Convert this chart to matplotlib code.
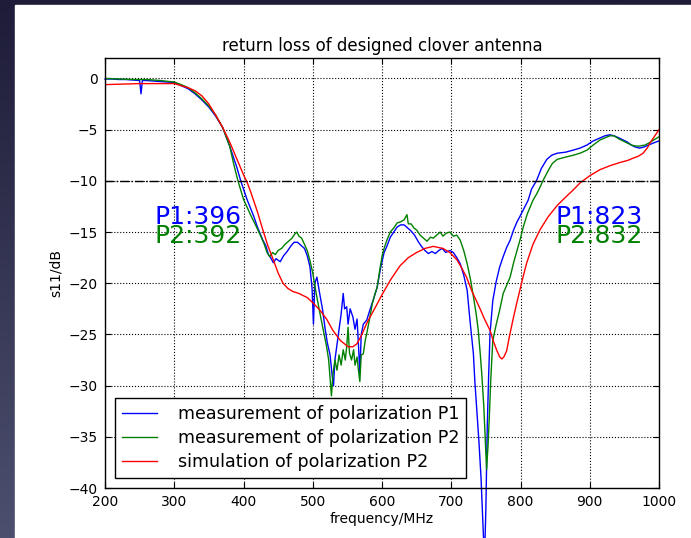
import numpy as np
import matplotlib
matplotlib.use("Agg")
import matplotlib.pyplot as plt
from matplotlib.patches import Rectangle

# measured P1 (blue)
f_p1 = [200, 210, 220, 230, 240, 250, 252, 254, 260, 270, 280, 290, 300, 310, 320, 330, 340, 350, 360, 370,
        380, 390, 396, 405, 415, 420, 428, 432, 436, 440, 443, 447, 453, 458, 463, 468, 473, 478, 483, 488,
        492, 496, 499, 501, 503, 506, 510, 514, 518, 521, 525, 528, 530, 532, 535, 538, 541, 544, 546, 549,
        551, 554, 558, 561, 564, 566, 568, 570, 573, 578, 583, 588, 593, 598, 603, 607, 612, 617, 622, 627,
        632, 637, 642, 647, 652, 657, 662, 667, 672, 677, 682, 687, 692, 698, 703, 708, 713, 718, 723, 727,
        732, 734, 737, 740, 743, 746, 748, 750, 752, 754, 756, 760, 765, 770, 775, 780, 785, 790, 795, 799,
        805, 811, 816, 823, 830, 838, 845, 853, 865, 876, 886, 896, 905, 915, 922, 929, 935, 942, 948, 954,
        960, 966, 972, 978, 985, 992, 1000]
s_p1 = [-0.05, -0.05, -0.1, -0.1, -0.15, -0.2, -1.5, -0.2, -0.2, -0.25, -0.3, -0.35, -0.4, -0.7, -1.0, -1.5, -2.1, -2.8, -3.7, -4.8,
        -6.6, -8.6, -10.0, -11.8, -13.5, -14.5, -15.8, -16.3, -17.2, -17.6, -18.0, -17.6, -17.9, -17.3, -16.9, -16.4, -16.0, -16.0, -16.3, -16.6,
        -17.3, -18.4, -20.5, -24.0, -20.0, -19.4, -21.0, -22.5, -24.5, -25.8, -27.0, -29.0, -30.0, -27.5, -26.0, -24.5, -23.0, -21.0, -22.5, -22.3,
        -24.0, -22.5, -23.3, -24.5, -23.5, -26.0, -28.8, -25.0, -24.0, -23.6, -22.5, -21.5, -20.4, -18.5, -17.0, -16.4, -15.5, -15.0, -14.5, -14.3,
        -14.3, -14.6, -14.9, -15.3, -15.9, -16.4, -16.8, -17.1, -16.9, -17.1, -16.8, -16.6, -17.0, -16.8, -17.0, -17.5, -18.1, -19.2, -20.7, -23.6,
        -26.9, -29.5, -32.5, -35.5, -39.0, -44.0, -47.0, -42.0, -34.0, -29.0, -24.9, -21.7, -19.8, -18.4, -17.4, -16.5, -15.8, -14.8, -14.0, -13.5,
        -12.7, -11.9, -10.8, -10.0, -8.8, -7.9, -7.5, -7.3, -7.2, -7.0, -6.8, -6.5, -6.1, -5.8, -5.6, -5.5, -5.6, -5.8, -6.0, -6.2,
        -6.5, -6.7, -6.8, -6.7, -6.5, -6.3, -6.1]

# measured P2 (green)
f_p2 = [200, 220, 240, 260, 280, 300, 310, 320, 330, 340, 350, 360, 370, 380, 386, 392, 400, 410, 418, 425,
        430, 434, 438, 442, 446, 450, 455, 460, 465, 470, 474, 477, 480, 484, 488, 492, 496, 500, 505, 510,
        515, 520, 523, 525, 527, 529, 532, 535, 538, 541, 544, 547, 549, 551, 553, 556, 559, 561, 564, 566,
        568, 570, 573, 576, 578, 582, 586, 590, 593, 597, 600, 603, 607, 612, 617, 622, 627, 632, 636, 638,
        642, 646, 650, 655, 660, 665, 670, 674, 679, 684, 688, 693, 698, 703, 708, 713, 718, 723, 728, 732,
        736, 739, 742, 744, 747, 749, 751, 753, 755, 757, 760, 765, 770, 775, 780, 785, 790, 795, 800, 804,
        810, 818, 824, 829, 833, 840, 846, 853, 864, 876, 886, 896, 905, 915, 922, 929, 935, 942, 948, 954,
        960, 966, 972, 980, 988, 995, 1000]
s_p2 = [0.0, -0.05, -0.1, -0.1, -0.2, -0.35, -0.6, -0.9, -1.4, -2.0, -2.7, -3.6, -4.8, -6.6, -8.4, -10.0, -11.8, -13.3, -14.4, -15.4,
        -16.2, -17.0, -17.4, -17.0, -17.2, -16.8, -16.6, -16.2, -15.9, -15.6, -15.2, -15.0, -15.4, -15.6, -16.2, -16.8, -17.8, -19.0, -21.0, -22.8,
        -24.5, -26.2, -27.5, -29.2, -31.0, -29.0, -27.5, -28.5, -27.0, -28.0, -26.5, -27.5, -26.2, -24.3, -26.8, -27.5, -26.5, -28.0, -27.2, -28.5,
        -29.6, -27.0, -26.9, -25.5, -24.9, -23.5, -22.0, -21.0, -20.4, -18.6, -17.4, -16.6, -15.8, -15.0, -14.6, -14.1, -14.0, -13.8, -13.3, -14.2,
        -14.2, -14.6, -14.8, -15.3, -15.6, -15.9, -15.5, -15.6, -15.3, -15.0, -15.4, -15.1, -15.0, -15.4, -15.3, -15.8, -16.8, -18.1, -19.7, -21.3,
        -23.0, -24.6, -27.0, -28.8, -32.0, -35.0, -38.2, -36.0, -33.0, -29.5, -25.6, -24.0, -22.6, -21.0, -20.2, -19.4, -18.0, -16.8, -15.6, -14.5,
        -13.2, -11.9, -11.2, -10.5, -9.9, -9.0, -8.3, -7.9, -7.7, -7.5, -7.3, -7.0, -6.5, -6.0, -5.8, -5.6, -5.6, -5.9, -6.1, -6.3,
        -6.5, -6.6, -6.6, -6.5, -6.2, -5.9, -5.7]

# simulation P2 (red)
f_sim = [200, 225, 250, 275, 300, 310, 320, 330, 340, 350, 360, 370, 380, 390, 400, 405, 410, 420, 428, 435,
         443, 450, 457, 464, 471, 480, 492, 500, 510, 520, 529, 540, 551, 558, 564, 571, 578, 590, 601, 613,
         626, 638, 650, 662, 674, 688, 698, 708, 715, 722, 730, 741, 748, 756, 761, 766, 770, 773, 776, 780,
         784, 789, 794, 799, 804, 809, 818, 828, 840, 853, 865, 876, 886, 900, 915, 930, 944, 955, 962, 970,
         977, 983, 987, 993, 1000]
s_sim = [-0.6, -0.55, -0.5, -0.5, -0.5, -0.7, -0.9, -1.2, -1.7, -2.5, -3.6, -4.8, -6.2, -7.8, -9.4, -10.1, -11.0, -13.0, -14.8, -16.3,
         -17.7, -19.0, -20.0, -20.5, -20.8, -21.0, -21.4, -21.9, -22.6, -23.5, -24.6, -25.6, -26.2, -26.2, -25.9, -25.0, -23.9, -22.4, -21.0, -19.6,
         -18.3, -17.5, -17.0, -16.6, -16.4, -16.6, -17.0, -17.7, -18.5, -19.4, -20.8, -22.4, -23.5, -24.6, -25.7, -26.6, -27.2, -27.4, -27.2, -26.6,
         -25.2, -23.6, -22.1, -20.7, -19.3, -18.0, -16.2, -14.8, -13.5, -12.4, -11.6, -10.9, -10.2, -9.5, -8.9, -8.5, -8.2, -8.0, -7.8, -7.6,
         -7.3, -6.8, -6.3, -5.7, -5.0]

fig = plt.figure(figsize=(6.91, 5.38), dpi=100)

# dark slide background around the white figure
bg = fig.add_axes([0, 0, 1, 1], zorder=-10)
grad = np.linspace(0, 1, 256).reshape(-1, 1)
top_c = np.array([0x1e, 0x1c, 0x38]) / 255.0
bot_c = np.array([0x4c, 0x50, 0x6e]) / 255.0
img = top_c[None, None, :] * (1 - grad[:, :, None]) + bot_c[None, None, :] * grad[:, :, None]
bg.imshow(img, aspect="auto", extent=[0, 1, 0, 1], origin="upper")
bg.add_patch(Rectangle((15 / 691, 0), 1, 1 - 5 / 538, color="white"))
bg.set_xlim(0, 1)
bg.set_ylim(0, 1)
bg.axis("off")

ax = fig.add_axes([105 / 691, 50 / 538, 554 / 691, 430 / 538])
ax.plot(f_p1, s_p1, color="blue", lw=1, label="measurement of polarization P1", clip_on=False)
ax.plot(f_p2, s_p2, color="green", lw=1, label="measurement of polarization P2")
ax.plot(f_sim, s_sim, color="red", lw=1, label="simulation of polarization P2")
ax.axhline(-10, color="black", ls="-.", lw=1)

ax.text(398, -14.2, "P1:396", color="blue", fontsize=18, ha="right", va="baseline")
ax.text(398, -16.1, "P2:392", color="green", fontsize=18, ha="right", va="baseline")
ax.text(850, -14.2, "P1:823", color="blue", fontsize=18, ha="left", va="baseline")
ax.text(850, -16.1, "P2:832", color="green", fontsize=18, ha="left", va="baseline")

ax.set_xlim(200, 1000)
ax.set_ylim(-40, 2)
ax.set_xticks(np.arange(200, 1001, 100))
ax.set_yticks(np.arange(-40, 1, 5))
ax.grid(True, color="black", ls=":", lw=0.8)
ax.tick_params(direction="in", top=True, right=True, length=4, labelsize=10, pad=5)
for sp in ax.spines.values():
    sp.set_linewidth(1)
ax.set_title("return loss of designed clover antenna", fontsize=12, pad=5)
ax.set_xlabel("frequency/MHz", fontsize=10, labelpad=2)
ax.set_ylabel("s11/dB", fontsize=10)

leg = ax.legend(loc="lower left", fontsize=12.6, fancybox=False, framealpha=1,
                edgecolor="black", borderaxespad=0.55, handlelength=2, handletextpad=1.2,
                labelspacing=0.35)
leg.get_frame().set_linewidth(1)

fig.savefig("out.png", dpi=100)
